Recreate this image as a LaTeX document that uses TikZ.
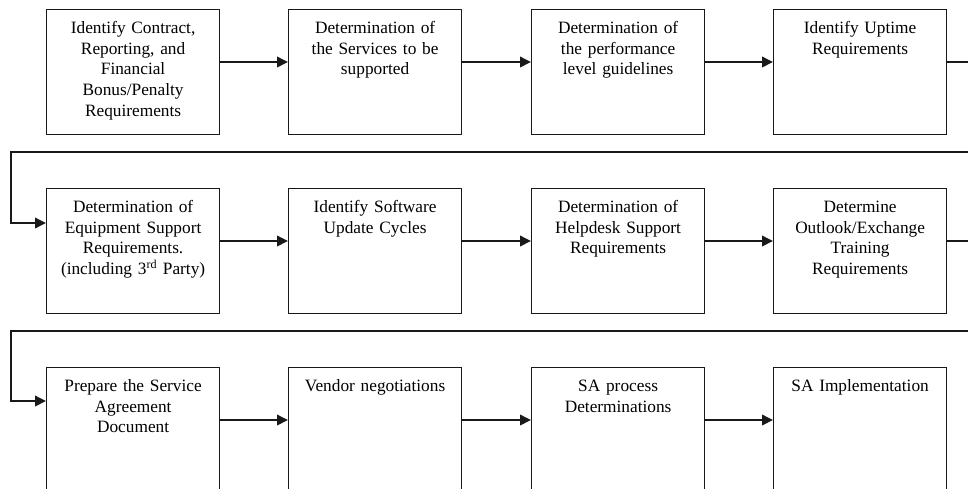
\documentclass[tikz,border=0pt]{standalone}
\usepackage{fontspec}
\setmainfont{Liberation Serif}
\usetikzlibrary{arrows.meta}
\begin{document}
\begin{tikzpicture}[x=1pt,y=-1pt,
  stepbox/.style={draw=black!90,line width=1.2pt,rectangle,minimum width=173pt,minimum height=125pt,anchor=north west,inner sep=0pt},
  steptext/.style={anchor=north,inner sep=0pt,text width=172pt,align=center,font=\fontsize{17.3}{20.8}\selectfont},
  flow/.style={draw=black!90,line width=1.9pt,-{Triangle[length=11pt,width=10.5pt]}},
  link/.style={draw=black!90,line width=1.9pt}]
\useasboundingbox[fill=white] (0,0) rectangle (968,488);

% three rows of four boxes
\foreach \r/\y in {1/9,2/188,3/367}{
  \foreach \c/\x in {1/46,2/288,3/531,4/773}{
    \node[stepbox] (b\r\c) at (\x,\y) {};
  }
}

\newcommand{\steplabel}[2]{\node[steptext] (t#1) at ([yshift=-9pt]b#1.north) {\rule{0pt}{15pt}#2};}
\steplabel{11}{Identify Contract,\\Reporting, and\\Financial\\Bonus/Penalty\\Requirements}
\steplabel{12}{Determination of\\the Services to be\\supported}
\steplabel{13}{Determination of\\the performance\\level guidelines}
\steplabel{14}{Identify Uptime\\Requirements}
\steplabel{21}{Determination of\\Equipment Support\\Requirements.\\(including 3\textsuperscript{rd} Party)}
\steplabel{22}{Identify Software\\Update Cycles}
\steplabel{23}{Determination of\\Helpdesk Support\\Requirements}
\steplabel{24}{Determine\\Outlook/Exchange\\Training\\Requirements}
\steplabel{31}{Prepare the Service\\Agreement\\Document}
\steplabel{32}{Vendor negotiations}
\steplabel{33}{SA process\\Determinations}
\steplabel{34}{SA Implementation}

% arrows within each row
\foreach \r in {1,2,3}{
  \draw[flow] ([yshift=-53pt]b\r1.north east) -- ([yshift=-53pt]b\r2.north west);
  \draw[flow] ([yshift=-53pt]b\r2.north east) -- ([yshift=-53pt]b\r3.north west);
  \draw[flow] ([yshift=-53pt]b\r3.north east) -- ([yshift=-53pt]b\r4.north west);
}

% wrap-around connectors between rows
\coordinate (e1) at (990,62);
\coordinate (f1) at (990,152);
\coordinate (g1) at (11,152);
\coordinate (e2) at (990,241);
\coordinate (f2) at (990,331);
\coordinate (g2) at (11,331);
\draw[flow] ([yshift=-53pt]b14.north east) -- (e1) -- (f1) -- (g1) |- ([yshift=-35pt]b21.north west);
\draw[flow] ([yshift=-53pt]b24.north east) -- (e2) -- (f2) -- (g2) |- ([yshift=-34pt]b31.north west);
\end{tikzpicture}
\end{document}
